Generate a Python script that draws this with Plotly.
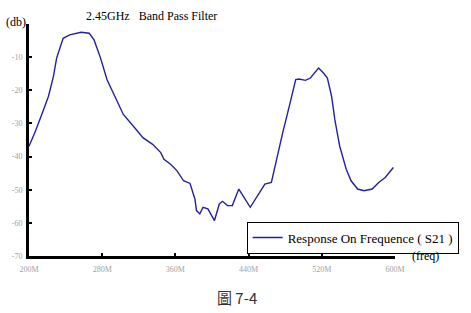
import plotly.graph_objects as go

# Data (frequency in MHz, response in dB)
freq = [200, 207.1, 216, 221.3, 226.7, 230.2, 237.3, 244.5, 256.9, 265.8, 271.1, 278.2,
        285.3, 294.2, 303.1, 315.5, 324.5, 335.1, 344, 347.5, 354.7, 361.8, 368.9, 376,
        381.3, 383.1, 386.7, 390.2, 395.5, 402.7, 408, 411.5, 416.9, 422.2, 429.3, 441.8,
        452.5, 457.8, 464.9, 472, 477.3, 484.5, 489.8, 491.5, 495.1, 502.2, 507.5, 512.9,
        516.5, 521.8, 526.1, 530.7, 534.2, 539.5, 543.1, 546.7, 552, 559.1, 566.2, 575.1,
        582.2, 589.3, 598.2]
s21 = [-36.9, -32.3, -25.8, -21.8, -15.8, -10.3, -4.3, -3.3, -2.5, -2.8, -4.8, -10.3,
       -16.8, -21.8, -27.3, -31.3, -34.3, -36.3, -38.8, -40.8, -42.3, -44.3, -47.3, -48.1,
       -52.8, -56.3, -57.3, -55.3, -55.8, -59.3, -54.3, -53.5, -54.8, -54.8, -49.8, -55.3,
       -50.8, -48.3, -47.8, -38.8, -32.8, -24.8, -18.8, -16.8, -16.6, -17.0, -16.3, -14.3,
       -13.3, -14.8, -16.3, -21.8, -28.8, -36.8, -40.3, -43.8, -47.3, -49.8, -50.3, -49.8,
       -47.8, -46.3, -43.3]

x_ticks = [200, 280, 360, 440, 520, 600]
x_labels = ["200M", "280M", "360M", "440M", "520M", "600M"]
y_ticks = [-70, -60, -50, -40, -30, -20, -10]
y_labels = ["-70", "-60", "-50", "-40", "-30", "-20", "-10"]

W, H = 471, 313
ML, MR, MT, MB = 25, 71, 24, 57
PW, PH = W - ML - MR, H - MT - MB

def px(x):
    return (x - ML) / PW

def py(y):
    return (H - MB - y) / PH

serif = "Liberation Serif, Times New Roman, serif"

fig = go.Figure()
fig.add_trace(go.Scatter(
    x=freq, y=s21, mode="lines",
    line=dict(color="#22229a", width=1.4),
    name="Response On Frequence ( S21 )",
))

fig.update_layout(
    width=W, height=H,
    margin=dict(l=ML, r=MR, t=MT, b=MB),
    paper_bgcolor="white", plot_bgcolor="white",
    showlegend=True,
    legend=dict(
        x=px(248), y=py(237.5), xanchor="left", yanchor="middle",
        bordercolor="black", borderwidth=1, bgcolor="white",
        font=dict(family=serif, size=13, color="black"),
        tracegroupgap=0, itemwidth=30,
    ),
    xaxis=dict(
        range=[200, 600], showgrid=False, zeroline=False,
        showline=True, linecolor="black", linewidth=3,
        tickmode="array", tickvals=x_ticks, ticktext=x_labels,
        ticks="inside", ticklen=3, tickwidth=2, tickcolor="black",
        tickfont=dict(family=serif, size=8, color="#a0a0a0"),
        ticklabelstandoff=3,
    ),
    yaxis=dict(
        range=[-70, 0], showgrid=False, zeroline=False,
        showline=True, linecolor="black", linewidth=3,
        tickmode="array", tickvals=y_ticks, ticktext=y_labels,
        ticks="inside", ticklen=3, tickwidth=2, tickcolor="black",
        tickfont=dict(family=serif, size=8, color="#a0a0a0"),
        ticklabelstandoff=2,
    ),
    annotations=[
        dict(text="2.45GHz&nbsp;&nbsp;&nbsp;Band Pass Filter", xref="paper", yref="paper",
             x=px(151), y=py(16), xanchor="center", yanchor="middle", showarrow=False,
             font=dict(family=serif, size=12, color="black")),
        dict(text="(db)", xref="paper", yref="paper",
             x=px(12), y=py(22), xanchor="center", yanchor="middle", showarrow=False,
             font=dict(family=serif, size=12, color="black")),
        dict(text="(freq)", xref="paper", yref="paper",
             x=px(431), y=py(256), xanchor="center", yanchor="middle", showarrow=False,
             font=dict(family=serif, size=12, color="black")),
        dict(text="圖 7-4", xref="paper", yref="paper",
             x=px(238), y=py(297), xanchor="center", yanchor="middle", showarrow=False,
             font=dict(family="Noto Sans CJK TC", size=15, color="#333333")),
    ],
)

fig.write_html("out.html")
